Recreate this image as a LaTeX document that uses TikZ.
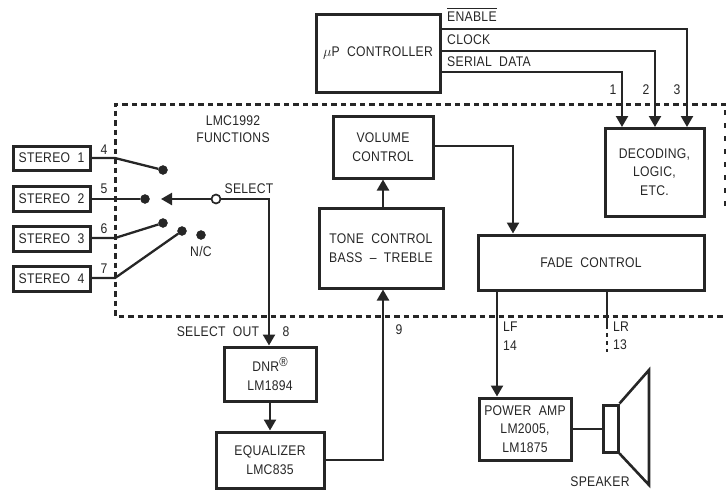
\documentclass[tikz,border=0pt]{standalone}
\usepackage{fontspec}
\setmainfont[FakeStretch=0.87,LetterSpace=2,WordSpace=2]{Liberation Sans}
\usetikzlibrary{arrows.meta}
\definecolor{ink}{gray}{0.15}
\tikzset{
 blk/.style={draw=ink,line width=3pt,inner sep=0pt,align=center,text=ink,font=\fontsize{14}{18.7}\selectfont},
 wire/.style={draw=ink,line width=2.3pt},
 arr/.style={wire,-{Triangle[length=11pt,width=12pt]}},
 lbl/.style={inner sep=0pt,text=ink,font=\fontsize{14}{15}\selectfont},
 lbll/.style={lbl,anchor=west},
 termdot/.style={circle,fill=ink,draw=ink,inner sep=0pt,minimum size=9pt},
 opendot/.style={circle,fill=white,draw=ink,line width=1.7pt,inner sep=0pt,minimum size=9pt},
 border/.style={draw=ink,line width=3pt,dash pattern=on 5.5pt off 4pt},
}
\newcommand{\bx}[6]{\node[blk,minimum width=#4 pt-#2 pt-2pt,minimum height=#5 pt-#3 pt-2pt] (#1) at ({(#2+#4)/2},{(#3+#5)/2}) {#6};}
\begin{document}
\begin{tikzpicture}[x=1pt,y=-1pt]
\useasboundingbox (0,0) rectangle (726,490);
% dashed border
\coordinate (bTR) at (726,104);\coordinate (bTL) at (115,104);\coordinate (bBL) at (115,316);\coordinate (bBR) at (726,316);
\coordinate (bRE) at (725,207);
\draw[border] (bTR) -- (bTL) -- (bBL) -- (bBR);
\draw[draw=ink,line width=1.5pt,dash pattern=on 5pt off 8pt] (725,110) -- (bRE);
% blocks
\bx{s1}{12}{145}{91}{171}{STEREO 1}
\bx{s2}{12}{185}{91}{212}{STEREO 2}
\bx{s3}{12}{225}{91}{252}{STEREO 3}
\bx{s4}{12}{265}{91}{292}{STEREO 4}
\bx{mu}{315}{13}{441}{93}{$\mu$P CONTROLLER}
\bx{vol}{332}{115}{434}{179}{VOLUME\\CONTROL}
\bx{dec}{604}{127}{705}{217}{DECODING,\\LOGIC,\\ETC.}
\bx{tone}{318}{207}{444}{289}{TONE CONTROL\\BASS -- TREBLE}
\bx{fade}{477}{234}{705}{291}{FADE CONTROL}
\bx{dnr}{223}{346}{317}{402}{DNR\raisebox{5pt}{\fontsize{13}{13}\selectfont ®}\\LM1894}
\bx{eq}{215}{431}{325}{489}{EQUALIZER\\LMC835}
\bx{pow}{478}{397}{572}{461}{POWER AMP\\LM2005,\\LM1875}
\bx{spk}{602}{404}{619}{453}{}
% speaker cone
\coordinate (c1) at (649,370);\coordinate (c2) at (649,485);
\draw[draw=ink,line width=2.6pt,line join=miter] (spk.north east) -- (c1) -- (c2) -- (spk.south east);
\draw[wire,line width=2.6pt] (pow.east |- 0,429) -- (spk.west |- 0,429);
% terminals
\node[termdot] (t1) at (163,170) {};
\node[termdot] (t2) at (145,199) {};
\node[termdot] (t3) at (163,223) {};
\node[termdot] (t4) at (182,231) {};
\node[termdot] (tn) at (201,235) {};
\node[opendot] (sel) at (216,199) {};
\coordinate (tip) at (161,199);
\coordinate (j1) at (115,158);\coordinate (j3) at (115,238);\coordinate (j4) at (115,278);
\coordinate (selc) at (269,199);
\draw[wire] (s1.east |- j1) -- (j1) -- (t1);
\draw[wire] (s2.east |- t2) -- (t2);
\draw[wire] (s3.east |- j3) -- (j3) -- (t3);
\draw[wire] (s4.east |- j4) -- (j4) -- (t4);
\draw[arr] (sel) -- (tip);
\draw[arr] (sel) -- (selc) -- (selc |- dnr.north);
% controller wires
\draw[arr] (mu.east |- 0,29) -- (687,29) -- (687,127);
\draw[arr] (mu.east |- 0,51) -- (655,51) -- (655,127);
\draw[arr] (mu.east |- 0,72) -- (622,72) -- (622,127);
% signal path
\draw[arr] (tone.north -| 383,0) -- (vol.south -| 383,0);
\draw[arr] (vol.east |- 0,146) -- (513,146) -- (fade.north -| 513,0);
\draw[arr] (eq.east |- 0,460) -- (383,460) -- (tone.south -| 383,0);
\draw[arr] (dnr.south -| 270,0) -- (eq.north -| 270,0);
\draw[arr] (fade.south -| 497,0) -- (pow.north -| 497,0);
\coordinate (lr) at (607,325);\coordinate (lre) at (607,352);
\draw[wire] (fade.south -| 607,0) -- (lr);
\draw[wire,dash pattern=on 4pt off 4pt] (lr) -- (lre);
% labels
\node[lbl] (n4) at (104,150) {4};
\node[lbl] (n5) at (104,189) {5};
\node[lbl] (n6) at (104,229) {6};
\node[lbl] (n7) at (104,269) {7};
\node[lbl] (lsel) at (249,189) {SELECT};
\node[lbl] (lnc) at (201,251) {N/C};
\node[lbl] (lf1) at (233,121) {LMC1992};
\node[lbl] (lf2) at (233,138) {FUNCTIONS};
\node[lbl] (lso) at (218,332) {SELECT OUT};
\node[lbl] (n8) at (286,332) {8};
\node[lbl] (n9) at (399,330) {9};
\node[lbll] (llf) at (503,327) {LF};
\node[lbll] (n14) at (503,346) {14};
\node[lbll] (llr) at (613,327) {LR};
\node[lbll] (n13) at (613,345) {13};
\node[lbl] (lspk) at (600,482) {SPEAKER};
\node[lbll] (len) at (447,17) {ENABLE};
\draw[draw=ink,line width=1pt] (len.west |- 0,8) -- (len.east |- 0,8);
\node[lbll] (lck) at (447,40) {CLOCK};
\node[lbll] (lsd) at (447,62) {SERIAL DATA};
\node[lbl] (n1) at (613,90) {1};
\node[lbl] (n2) at (646,90) {2};
\node[lbl] (n3) at (677,90) {3};
\end{tikzpicture}
\end{document}
